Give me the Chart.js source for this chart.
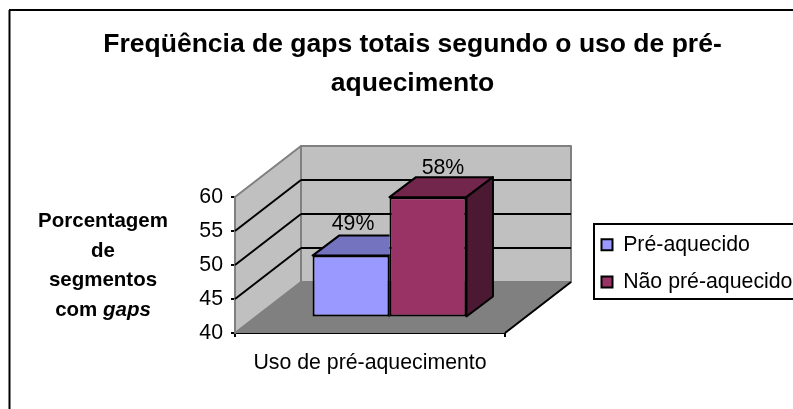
<!DOCTYPE html>
<html>
<head>
<meta charset="utf-8">
<style>
html, body { margin: 0; padding: 0; background: #fff; overflow: hidden; }
#wrap { position: relative; width: 793px; height: 409px; }
</style>
<script src="https://cdn.jsdelivr.net/npm/chart.js@4"></script>
</head>
<body>
<div id="wrap"><canvas id="grafico" width="793" height="409"></canvas></div>
<script>
var categorias = ['Uso de pré-aquecimento'];
var nomesSeries = ['Pré-aquecido', 'Não pré-aquecido'];
var preAquecido = [49.1];
var naoPreAquecido = [57.7];
var eixoMin = 40, eixoMax = 60, eixoPasso = 5;
var tituloLinhas = ['Freqüência de gaps totais segundo o uso de pré-', 'aquecimento'];
var tituloEixoY = ['Porcentagem', 'de', 'segmentos'];
var tituloEixoYFim = ['com ', 'gaps'];

var fonte = '"Liberation Sans", Arial, sans-serif';

// profundidade da "caixa" 3D e das barras
var fundoX = 66, fundoY = -51;
var barraX = 19.5, barraY = -15.5;
var topoX = 26.5, topoY = -20;
var deslocaRotuloX = [2, 15];
var deslocaRotuloY = [-32, -29.5];

function poligono(ctx, pts, cor, borda, largura) {
    ctx.beginPath();
    ctx.moveTo(pts[0][0], pts[0][1]);
    for (var i = 1; i < pts.length; i++) ctx.lineTo(pts[i][0], pts[i][1]);
    ctx.closePath();
    ctx.fillStyle = cor;
    ctx.fill();
    if (borda) {
        ctx.strokeStyle = borda;
        ctx.lineWidth = largura;
        ctx.lineJoin = 'round';
        ctx.stroke();
    }
}

function linha(ctx, x1, y1, x2, y2, cor, largura) {
    ctx.beginPath();
    ctx.moveTo(x1, y1);
    ctx.lineTo(x2, y2);
    ctx.strokeStyle = cor;
    ctx.lineWidth = largura;
    ctx.stroke();
}

var caixa3d = {
    id: 'caixa3d',
    afterLayout: function (chart) {
        // titulo centrado fora da area do grafico, legenda a direita
        chart.titleBlock.left = 32;
        chart.titleBlock.right = 793;
        var leg = chart.legend;
        leg.left = 585.5;
        leg.right = 793;
        leg.top = 218;
        leg.bottom = 400;
    },
    beforeDraw: function (chart) {
        var ctx = chart.ctx;
        ctx.save();
        ctx.fillStyle = '#fff';
        ctx.fillRect(0, 0, 793, 409);
        linha(ctx, 9.5, 410, 9.5, 10, '#000', 2);
        linha(ctx, 9, 10, 793, 10, '#000', 2);
        // caixa da legenda
        ctx.strokeStyle = '#000';
        ctx.lineWidth = 2;
        ctx.strokeRect(594, 224, 220, 75);
        ctx.restore();
    },
    beforeDatasetsDraw: function (chart) {
        var ctx = chart.ctx, a = chart.chartArea, y = chart.scales.y;
        var e = a.left, d = a.right, t = a.top, b = a.bottom;
        ctx.save();
        poligono(ctx, [[e + fundoX, t + fundoY], [d + fundoX, t + fundoY], [d + fundoX, b + fundoY], [e + fundoX, b + fundoY]], '#c0c0c0', '#808080', 2);
        poligono(ctx, [[e, b], [e, t], [e + fundoX, t + fundoY], [e + fundoX, b + fundoY]], '#c0c0c0', '#808080', 2);
        poligono(ctx, [[e, b], [d, b], [d + fundoX, b + fundoY], [e + fundoX, b + fundoY]], '#808080');
        y.ticks.forEach(function (tk) {
            if (tk.value == y.min || tk.value == y.max) return;
            var py = y.getPixelForValue(tk.value);
            linha(ctx, e, py, e + fundoX, py + fundoY, '#000', 2);
            linha(ctx, e + fundoX, py + fundoY, d + fundoX, py + fundoY, '#000', 2);
        });
        linha(ctx, e + fundoX, b + fundoY, d + fundoX, b + fundoY, '#808080', 2);
        linha(ctx, d, b, d + fundoX, b + fundoY, '#000', 2);
        ctx.restore();
    },
    beforeDatasetDraw: function (chart, args) {
        var ctx = chart.ctx;
        var el = args.meta.data[0];
        var cores = chart.data.datasets[args.index].faces;
        var e = el.x - el.width / 2, d = el.x + el.width / 2;
        ctx.save();
        ctx.translate(barraX, barraY);
        ctx.save();
        // a primeira barra sai por ultimo: o topo dela fica atras da segunda
        if (args.index == 0) {
            ctx.beginPath();
            ctx.rect(0, 0, d, 409);
            ctx.clip();
        }
        poligono(ctx, [[e, el.y], [e + topoX, el.y + topoY], [d + topoX, el.y + topoY], [d, el.y]], cores[0], '#000', 2);
        poligono(ctx, [[d, el.y], [d + topoX, el.y + topoY], [d + topoX, el.base + topoY], [d, el.base]], cores[1], '#000', 2);
        ctx.restore();
    },
    afterDatasetDraw: function (chart) {
        chart.ctx.restore();
    },
    afterDatasetsDraw: function (chart) {
        var ctx = chart.ctx;
        ctx.save();
        ctx.fillStyle = '#000';
        ctx.font = '21.3px ' + fonte;
        ctx.textAlign = 'center';
        ctx.textBaseline = 'middle';
        chart.data.datasets.forEach(function (ds, i) {
            var el = chart.getDatasetMeta(i).data[0];
            ctx.fillText(Math.round(ds.data[0]) + '%', el.x + barraX + deslocaRotuloX[i], el.y + barraY + deslocaRotuloY[i]);
        });
        // titulo do eixo y (ultima linha tem parte em italico)
        var cx = 103, ys = [221, 251, 280];
        ctx.font = 'bold 20.5px ' + fonte;
        tituloEixoY.forEach(function (txt, i) {
            ctx.fillText(txt, cx, ys[i]);
        });
        var w1 = ctx.measureText(tituloEixoYFim[0]).width;
        ctx.font = 'italic bold 20.5px ' + fonte;
        var w2 = ctx.measureText(tituloEixoYFim[1]).width;
        ctx.textAlign = 'left';
        ctx.fillText(tituloEixoYFim[1], cx - (w1 + w2) / 2 + w1, 310);
        ctx.font = 'bold 20.5px ' + fonte;
        ctx.fillText(tituloEixoYFim[0], cx - (w1 + w2) / 2, 310);
        ctx.restore();
    }
};

var chartdata = {
    labels: categorias,
    datasets: [
        {
            label: nomesSeries[0],
            data: preAquecido,
            base: eixoMin,
            backgroundColor: '#9999ff',
            borderColor: '#000',
            borderWidth: 2,
            borderSkipped: false,
            faces: ['#7373bf', '#4c4c80'],
            clip: false
        },
        {
            label: nomesSeries[1],
            data: naoPreAquecido,
            base: eixoMin,
            backgroundColor: '#993366',
            borderColor: '#000',
            borderWidth: 2,
            borderSkipped: false,
            faces: ['#73264c', '#4c1933'],
            clip: false
        }
    ]
};

var ctx = document.getElementById('grafico');
var barGraph = new Chart(ctx, {
    type: 'bar',
    data: chartdata,
    plugins: [caixa3d],
    options: {
        responsive: false,
        animation: false,
        layout: { padding: { left: 32, right: 288, top: 0, bottom: 0 } },
        categoryPercentage: 0.57,
        barPercentage: 1,
        plugins: {
            tooltip: { enabled: false },
            title: {
                display: true,
                text: tituloLinhas,
                color: '#000',
                font: { family: fonte, size: 26.5, weight: 'bold', lineHeight: '39px' },
                padding: { top: 25, bottom: 94 }
            },
            legend: {
                display: true,
                position: 'chartArea',
                align: 'start',
                labels: {
                    color: '#000',
                    font: { family: fonte, size: 21.3 },
                    boxWidth: 11,
                    boxHeight: 11,
                    padding: 16
                }
            }
        },
        scales: {
            x: {
                afterFit: function (s) { s.height = 76; },
                grid: { drawOnChartArea: false, color: '#000', lineWidth: 2, tickLength: 4 },
                border: { color: '#000', width: 2 },
                ticks: { color: '#000', font: { family: fonte, size: 21.3 }, padding: 13, maxRotation: 0 }
            },
            y: {
                min: eixoMin,
                max: eixoMax,
                afterFit: function (s) { s.width = 203; },
                grid: { drawOnChartArea: false, color: '#000', lineWidth: 2, tickLength: 4 },
                border: { color: '#000', width: 2 },
                ticks: { color: '#000', stepSize: eixoPasso, font: { family: fonte, size: 21.3 }, padding: 8 }
            }
        }
    }
});
</script>
</body>
</html>
